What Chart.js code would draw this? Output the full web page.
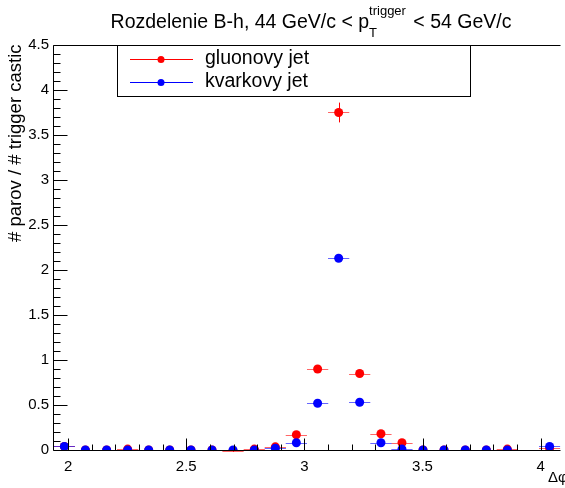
<!DOCTYPE html>
<html>
<head>
<meta charset="utf-8">
<script src="https://cdn.jsdelivr.net/npm/chart.js@4.4.1/dist/chart.umd.min.js"></script>
<style>
  html, body { margin: 0; padding: 0; background: #fff; }
  #wrap { width: 565px; height: 488px; }
</style>
</head>
<body>
<div id="wrap"><canvas id="myChart" width="565" height="488"></canvas></div>
<script>
// bin centres (delta phi)
var binCenters = [1.984, 2.073, 2.163, 2.252, 2.341, 2.430, 2.520, 2.609, 2.698, 2.788,
  2.877, 2.966, 3.056, 3.145, 3.234, 3.324, 3.413, 3.502, 3.591, 3.681,
  3.770, 3.859, 3.948, 4.038];
var binHalfWidth = 0.045;

// gluonovy jet (red)
var gluonValues = [0.04, 0.0, 0.0, 0.01, 0.0, 0.0, 0.0, 0.0, -0.01, 0.01,
  0.035, 0.17, 0.90, 3.75, 0.85, 0.18, 0.08, 0.0, 0.0, 0.0,
  0.0, 0.01, null, 0.02];
var gluonErrors = [0.02, 0.0, 0.0, 0.01, 0.0, 0.0, 0.0, 0.0, 0.01, 0.01,
  0.02, 0.03, 0.04, 0.11, 0.04, 0.03, 0.02, 0.0, 0.0, 0.0,
  0.0, 0.01, null, 0.01];

// kvarkovy jet (blue)
var quarkValues = [0.04, 0.0, 0.0, 0.0, 0.0, 0.0, 0.0, 0.0, 0.0, 0.0,
  0.02, 0.08, 0.52, 2.13, 0.53, 0.08, 0.01, 0.0, 0.0, 0.0,
  0.0, 0.0, null, 0.04];
var quarkErrors = [0.01, 0.0, 0.0, 0.0, 0.0, 0.0, 0.0, 0.0, 0.0, 0.0,
  0.01, 0.02, 0.03, 0.04, 0.03, 0.02, 0.01, 0.0, 0.0, 0.0,
  0.0, 0.0, null, 0.01];

var xTickValues = [2, 2.5, 3, 3.5, 4];
var yTickValues = [0, 0.5, 1, 1.5, 2, 2.5, 3, 3.5, 4, 4.5];

var FONT = "Liberation Sans, Arial, sans-serif";

function toPoints(vals, errs) {
  var pts = [];
  for (var i = 0; i < binCenters.length; i++) {
    if (vals[i] === null) continue;
    pts.push({ x: binCenters[i], y: vals[i], err: errs[i] });
  }
  return pts;
}

function plainLabel(v) { return String(Math.round(v * 100) / 100); }

// error bars under each dataset's markers
var errorBars = {
  id: "errorBars",
  beforeDatasetDraw: function (chart, args) {
    var ds = chart.data.datasets[args.index];
    var xs = chart.scales.x, ys = chart.scales.y;
    var ctx = chart.ctx;
    ctx.save();
    ctx.beginPath();
    ctx.rect(chart.chartArea.left, chart.chartArea.top, chart.chartArea.right - chart.chartArea.left, chart.chartArea.bottom - chart.chartArea.top + 2);
    ctx.clip();
    ctx.lineWidth = 1;
    ds.data.forEach(function (p) {
      var y = Math.round(ys.getPixelForValue(p.y)) + 0.5;
      var x = Math.round(xs.getPixelForValue(p.x)) + 0.5;
      ctx.strokeStyle = ds.barColor;
      ctx.beginPath();
      ctx.moveTo(xs.getPixelForValue(p.x - binHalfWidth), y);
      ctx.lineTo(xs.getPixelForValue(p.x + binHalfWidth), y);
      ctx.stroke();
      ctx.strokeStyle = ds.borderColor;
      ctx.beginPath();
      ctx.moveTo(x, ys.getPixelForValue(p.y - p.err));
      ctx.lineTo(x, ys.getPixelForValue(p.y + p.err));
      ctx.stroke();
    });
    ctx.restore();
  }
};

// ROOT style frame, inner ticks, titles and legend
var rootFrame = {
  id: "rootFrame",
  afterDraw: function (chart) {
    var ctx = chart.ctx, a = chart.chartArea;
    var xs = chart.scales.x, ys = chart.scales.y;
    ctx.save();
    ctx.strokeStyle = "#000";
    ctx.lineWidth = 1;
    var L = Math.round(a.left) + 0.5, B = Math.round(a.bottom) + 0.5, T = Math.round(a.top) + 0.5;
    ctx.beginPath();
    ctx.moveTo(L, T); ctx.lineTo(a.right, T);
    ctx.moveTo(L, T); ctx.lineTo(L, B);
    ctx.moveTo(L, B); ctx.lineTo(a.right, B);
    // y ticks
    for (var v = 0; v <= 4.5001; v += 0.1) {
      var yp = Math.round(ys.getPixelForValue(v)) + 0.5;
      var major = Math.abs(v / 0.5 - Math.round(v / 0.5)) < 1e-6;
      ctx.moveTo(L, yp); ctx.lineTo(L + (major ? 14 : 7), yp);
    }
    // x ticks
    for (var k = 19; k <= 41; k++) {
      var xv = k / 10;
      var xp = Math.round(xs.getPixelForValue(xv)) + 0.5;
      if (xp < a.left || xp > a.right) continue;
      var maj = k % 5 === 0;
      ctx.moveTo(xp, B); ctx.lineTo(xp, B - (maj ? 12 : 6));
    }
    ctx.stroke();

    ctx.fillStyle = "#000";
    // title with sub/superscript
    var big = "19.5px " + FONT, small = "13px " + FONT;
    var t1 = "Rozdelenie B-h, 44 GeV/c < p", t2 = " < 54 GeV/c";
    ctx.font = big;
    var w1 = ctx.measureText(t1).width, w3 = ctx.measureText(t2).width;
    ctx.font = small;
    var w2 = ctx.measureText("trigger").width;
    var sx = 310 - (w1 + w2 + w3) / 2, base = 28;
    ctx.textAlign = "left";
    ctx.textBaseline = "alphabetic";
    ctx.font = big;
    ctx.fillText(t1, sx, base);
    ctx.font = small;
    ctx.fillText("T", sx + w1, base + 9);
    ctx.fillText("trigger", sx + w1, base - 13);
    ctx.font = big;
    ctx.fillText(t2, sx + w1 + w2 + 2, base);

    // y axis title
    ctx.save();
    ctx.translate(21, T - 1);
    ctx.rotate(-Math.PI / 2);
    ctx.textAlign = "right";
    ctx.font = "18.5px " + FONT;
    ctx.fillText("# parov / # trigger castic", 0, 0);
    ctx.restore();

    // x axis title
    ctx.font = "15px " + FONT;
    ctx.textAlign = "left";
    ctx.fillText("\u0394\u03c6", 548, 482);

    // legend box
    ctx.fillStyle = "#fff";
    ctx.fillRect(118, 45, 352, 51);
    ctx.strokeStyle = "#000";
    ctx.strokeRect(117.5, 45.5, 353, 51);
    var entries = [
      { label: "gluonovy jet", color: "#ff0000", y: 59 },
      { label: "kvarkovy jet", color: "#0000ff", y: 82 }
    ];
    entries.forEach(function (e) {
      ctx.strokeStyle = e.color;
      ctx.beginPath();
      ctx.moveTo(130, e.y + 0.5); ctx.lineTo(193, e.y + 0.5);
      ctx.stroke();
      ctx.fillStyle = e.color;
      ctx.beginPath();
      ctx.arc(161, e.y + 0.5, 3.5, 0, Math.PI * 2);
      ctx.fill();
      ctx.fillStyle = "#000";
      ctx.font = "19.5px " + FONT;
      ctx.textBaseline = "middle";
      ctx.fillText(e.label, 205, e.y);
    });
    ctx.restore();
  }
};

var ctx = document.getElementById("myChart").getContext("2d");
var myChart = new Chart(ctx, {
  type: "scatter",
  data: {
    datasets: [
      {
        label: "gluonovy jet",
        data: toPoints(gluonValues, gluonErrors),
        backgroundColor: "#ff0000",
        borderColor: "#ff0000",
        barColor: "rgba(255,0,0,0.6)",
        pointRadius: 4.5,
        pointBorderWidth: 0,
        order: 2
      },
      {
        label: "kvarkovy jet",
        data: toPoints(quarkValues, quarkErrors),
        backgroundColor: "#0000ff",
        borderColor: "#0000ff",
        barColor: "rgba(0,0,255,0.6)",
        pointRadius: 4.5,
        pointBorderWidth: 0,
        order: 1
      }
    ]
  },
  options: {
    responsive: false,
    animation: false,
    layout: { padding: { top: 45, right: 0, left: 0, bottom: 0 } },
    plugins: {
      legend: { display: false },
      title: { display: false },
      tooltip: { enabled: false }
    },
    scales: {
      x: {
        type: "linear",
        min: 1.936,
        max: 4.084,
        grid: { display: false },
        border: { display: false },
        ticks: { color: "#000", font: { family: FONT, size: 15 }, padding: 0, maxRotation: 0, callback: plainLabel },
        afterBuildTicks: function (s) { s.ticks = xTickValues.map(function (v) { return { value: v }; }); },
        afterFit: function (s) { s.height = 38; }
      },
      y: {
        type: "linear",
        min: 0,
        max: 4.5,
        grid: { display: false },
        border: { display: false },
        ticks: { color: "#000", font: { family: FONT, size: 15 }, padding: -4, callback: plainLabel },
        afterBuildTicks: function (s) { s.ticks = yTickValues.map(function (v) { return { value: v }; }); },
        afterFit: function (s) { s.width = 53; }
      }
    }
  },
  plugins: [errorBars, rootFrame]
});
</script>
</body>
</html>
